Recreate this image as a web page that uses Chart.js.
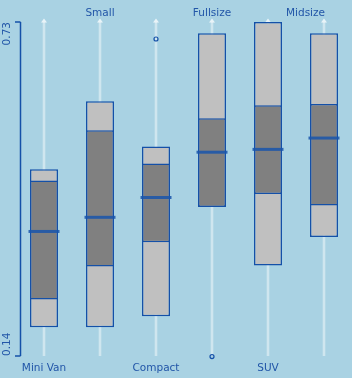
<!DOCTYPE html>
<html><head><meta charset="utf-8">
<script src="https://cdn.jsdelivr.net/npm/chart.js@4.4.1/dist/chart.umd.min.js"></script>
<style>
html,body{margin:0;padding:0;background:#a9d2e3;}
#wrap{width:352px;height:378px;position:relative;}
</style></head><body>
<div id="wrap"><canvas id="c" width="352" height="378"></canvas></div>
<script>
const categories = ['Mini Van','Small','Compact','Fullsize','SUV','Midsize'];
const lowValues = [0.191,0.191,0.210,0.403,0.300,0.350];
const q1Values = [0.240,0.298,0.341,0.403,0.426,0.406];
const medianValues = [0.360,0.385,0.420,0.500,0.505,0.525];
const q3Values = [0.450,0.539,0.480,0.560,0.583,0.585];
const highValues = [0.470,0.590,0.510,0.710,0.730,0.710];
const outlierValues = [null,null,0.700,0.139,null,null];
const yTicks = [0.14, 0.73];

const AXIS_BLUE = '#1450a8';
const TEXT_BLUE = '#2256a8';
const FONT = '10.5px "DejaVu Sans", sans-serif';

const decorPlugin = {
  id: 'decor',
  beforeDatasetsDraw(chart) {
    const {ctx, chartArea, scales} = chart;
    const xs = scales.x;
    ctx.save();
    categories.forEach((c, i) => {
      const x = Math.round(xs.getPixelForValue(i));
      ctx.strokeStyle = 'rgba(255,255,255,0.28)';
      ctx.lineWidth = 3;
      ctx.beginPath(); ctx.moveTo(x, chartArea.top); ctx.lineTo(x, chartArea.bottom); ctx.stroke();
      ctx.strokeStyle = 'rgba(255,255,255,0.45)';
      ctx.lineWidth = 1;
      ctx.beginPath(); ctx.moveTo(x, chartArea.top); ctx.lineTo(x, chartArea.bottom); ctx.stroke();
      ctx.fillStyle = 'rgba(255,255,255,0.75)';
      ctx.beginPath();
      ctx.moveTo(x, chartArea.top - 3.5);
      ctx.lineTo(x - 3, chartArea.top + 0.5);
      ctx.lineTo(x + 3, chartArea.top + 0.5);
      ctx.closePath(); ctx.fill();
    });
    ctx.restore();
  },
  afterDraw(chart) {
    const {ctx, chartArea, scales} = chart;
    const ys = scales.y, xs = scales.x;
    ctx.save();
    // y axis
    const ax = 20.5;
    const yTop = ys.getPixelForValue(yTicks[yTicks.length - 1]);
    const yBot = ys.getPixelForValue(yTicks[0]);
    ctx.strokeStyle = AXIS_BLUE;
    ctx.lineWidth = 1.5;
    ctx.beginPath(); ctx.moveTo(ax, yTop); ctx.lineTo(ax, yBot); ctx.stroke();
    ctx.font = FONT;
    ctx.fillStyle = TEXT_BLUE;
    yTicks.forEach((v, i) => {
      const y = ys.getPixelForValue(v);
      ctx.beginPath(); ctx.moveTo(15, y); ctx.lineTo(ax, y); ctx.stroke();
      ctx.save();
      ctx.translate(7.5, y);
      ctx.rotate(-Math.PI / 2);
      ctx.textBaseline = 'middle';
      ctx.textAlign = (i === yTicks.length - 1) ? 'right' : 'left';
      ctx.fillText(v.toFixed(2), 0, 0);
      ctx.restore();
    });
    // category labels, alternating bottom / top
    categories.forEach((c, i) => {
      const x = xs.getPixelForValue(i);
      const last = i === categories.length - 1;
      ctx.textAlign = last ? 'right' : 'center';
      ctx.textBaseline = 'alphabetic';
      if (i % 2 === 0) ctx.fillText(c, x, chartArea.bottom + 15);
      else ctx.fillText(c, last ? x + 1 : x, chartArea.top - 6);
    });
    ctx.restore();
  }
};

new Chart(document.getElementById('c'), {
  type: 'bar',
  data: {
    labels: categories,
    datasets: [
      {
        type: 'bar',
        data: categories.map((c, i) => [lowValues[i], highValues[i]]),
        backgroundColor: '#c0c0c0', borderColor: AXIS_BLUE, borderWidth: 1.5,
        borderSkipped: false, grouped: false, order: 4,
        categoryPercentage: 1, barPercentage: 0.5
      },
      {
        type: 'bar',
        data: categories.map((c, i) => [q1Values[i], q3Values[i]]),
        backgroundColor: '#808080', borderColor: AXIS_BLUE, borderWidth: 1.5,
        borderSkipped: false, grouped: false, order: 3,
        categoryPercentage: 1, barPercentage: 0.5
      },
      {
        type: 'line', data: medianValues, showLine: false, clip: false,
        pointStyle: 'line', pointRadius: 15.5, pointHoverRadius: 15.5,
        pointBorderWidth: 3, pointBorderColor: 'rgba(25,85,172,0.85)', order: 2
      },
      {
        type: 'line', data: outlierValues, showLine: false, clip: false,
        pointStyle: 'circle', pointRadius: 2, pointBorderWidth: 1.2,
        pointBorderColor: AXIS_BLUE, pointBackgroundColor: 'rgba(0,0,0,0)', order: 1
      }
    ]
  },
  options: {
    responsive: false, animation: false,
    layout: {autoPadding: false, padding: {left: 16, right: -2, top: 22, bottom: 22}},
    plugins: {legend: {display: false}, tooltip: {enabled: false}},
    scales: {
      x: {display: false, offset: true},
      y: {display: false, min: 0.14, max: 0.73}
    }
  },
  plugins: [decorPlugin]
});
</script>
</body></html>
